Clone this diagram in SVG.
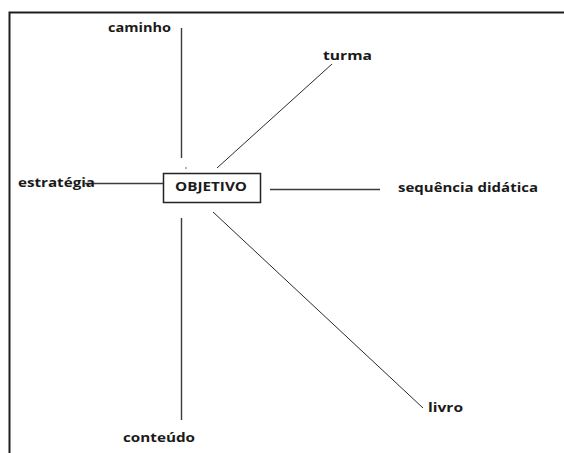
<svg xmlns="http://www.w3.org/2000/svg" width="564" height="453" viewBox="0 0 564 453">
<style>
.lbl{font-family:"Open Sans","Liberation Sans",sans-serif;font-weight:bold;font-size:12px;fill:#1a1a1a}
.ln{stroke:#3a3a3a;stroke-width:1.4;fill:none}
.dg{stroke:#2a2a2a;stroke-width:1;fill:none}
</style>
<rect width="564" height="453" fill="#ffffff"/>
<g id="frame">
<path d="M9.5 453 V12.5 H564" fill="none" stroke="#1e1e1e" stroke-width="2"/>
</g>
<g id="connectors">
<line class="ln" x1="181.5" y1="28" x2="181.5" y2="158"/>
<line class="dg" x1="217" y1="168" x2="332" y2="64"/>
<line class="ln" x1="85" y1="183.5" x2="163" y2="183.5"/>
<line class="ln" x1="270" y1="189.5" x2="380" y2="189.5"/>
<line class="dg" x1="213" y1="212" x2="423" y2="408"/>
<line class="ln" x1="181.5" y1="218" x2="181.5" y2="420"/>
<circle cx="186" cy="168" r="0.8" fill="#555"/>
</g>
<g id="objetivo">
<rect x="163.5" y="173.5" width="97" height="29" fill="#ffffff" stroke="#222" stroke-width="1.5"/>
<text class="lbl" x="175" y="191" textLength="72" lengthAdjust="spacingAndGlyphs">OBJETIVO</text>
</g>
<g id="caminho"><text class="lbl" x="108" y="32" textLength="63" lengthAdjust="spacingAndGlyphs">caminho</text></g>
<g id="turma"><text class="lbl" x="323" y="60" textLength="49" lengthAdjust="spacingAndGlyphs">turma</text></g>
<g id="estrategia"><text class="lbl" x="18" y="187" textLength="77" lengthAdjust="spacingAndGlyphs">estratégia</text></g>
<g id="sequencia"><text class="lbl" x="398" y="192" textLength="140" lengthAdjust="spacingAndGlyphs">sequência didática</text></g>
<g id="livro"><text class="lbl" x="428" y="412" textLength="35" lengthAdjust="spacingAndGlyphs">livro</text></g>
<g id="conteudo"><text class="lbl" x="123" y="442" textLength="72" lengthAdjust="spacingAndGlyphs">conteúdo</text></g>
</svg>
